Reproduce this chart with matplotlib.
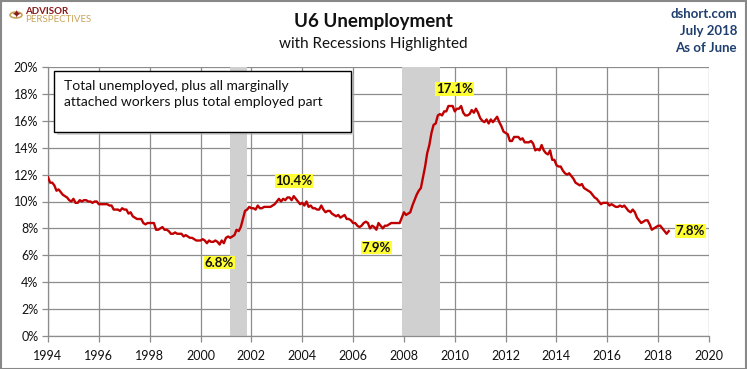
import matplotlib
matplotlib.use("Agg")
import matplotlib.pyplot as plt
import numpy as np
from matplotlib.patches import Rectangle, Circle

plt.rcParams['font.family'] = ['Lato', 'DejaVu Sans']

# ---- data: monthly U6 rate (%), Jan 1994 .. Jun 2018 ----
start_year = 1994
u6 = [
    11.8, 11.4, 11.4, 11.2, 10.8, 10.9, 10.7, 10.5, 10.4, 10.3, 10.1, 10.0,  # 1994
    10.2, 9.9, 9.9, 10.1, 10.0, 10.1, 10.1, 10.0, 10.0, 9.9, 10.0, 10.0,     # 1995
    9.8, 9.8, 9.8, 9.8, 9.8, 9.7, 9.7, 9.4, 9.4, 9.4, 9.3, 9.5,              # 1996
    9.4, 9.4, 9.1, 9.2, 8.9, 8.8, 8.7, 8.7, 8.7, 8.4, 8.3, 8.4,              # 1997
    8.4, 8.4, 8.4, 7.9, 7.9, 8.0, 8.1, 7.9, 7.9, 7.8, 7.6, 7.6,              # 1998
    7.7, 7.6, 7.6, 7.6, 7.4, 7.5, 7.4, 7.3, 7.3, 7.2, 7.1, 7.1,              # 1999
    7.1, 7.2, 7.1, 6.9, 7.1, 7.0, 7.0, 7.1, 7.0, 6.8, 7.1, 6.9,              # 2000
    7.3, 7.4, 7.3, 7.4, 7.5, 7.9, 7.8, 8.1, 8.7, 9.3, 9.4, 9.6,              # 2001
    9.5, 9.5, 9.4, 9.7, 9.5, 9.5, 9.6, 9.6, 9.6, 9.6, 9.7, 9.8,              # 2002
    10.0, 10.2, 10.0, 10.2, 10.1, 10.3, 10.3, 10.1, 10.4, 10.2, 10.0, 9.8,   # 2003
    9.9, 9.7, 10.0, 9.6, 9.7, 9.5, 9.5, 9.4, 9.4, 9.7, 9.4, 9.2,             # 2004
    9.3, 9.3, 9.1, 9.0, 8.9, 9.0, 8.8, 8.9, 9.0, 8.7, 8.7, 8.6,              # 2005
    8.4, 8.4, 8.2, 8.1, 8.2, 8.4, 8.5, 8.4, 8.0, 8.2, 8.1, 7.9,              # 2006
    8.4, 8.2, 8.0, 8.2, 8.2, 8.3, 8.4, 8.4, 8.4, 8.4, 8.4, 8.8,              # 2007
    9.2, 9.0, 9.1, 9.2, 9.7, 10.1, 10.5, 10.8, 11.0, 11.8, 12.6, 13.6,       # 2008
    14.2, 15.1, 15.7, 15.8, 16.4, 16.5, 16.4, 16.7, 16.7, 17.1, 17.1, 17.1,  # 2009
    16.7, 16.9, 16.9, 17.1, 16.6, 16.4, 16.4, 16.5, 16.8, 16.6, 16.9, 16.6,  # 2010
    16.2, 16.0, 15.9, 16.1, 15.8, 16.1, 15.9, 16.1, 16.3, 15.9, 15.6, 15.2,  # 2011
    15.1, 15.0, 14.5, 14.5, 14.8, 14.8, 14.8, 14.6, 14.7, 14.4, 14.4, 14.4,  # 2012
    14.5, 14.3, 13.8, 13.9, 13.8, 14.2, 13.8, 13.6, 13.5, 13.8, 13.1, 13.1,  # 2013
    12.7, 12.6, 12.6, 12.3, 12.1, 12.0, 12.1, 11.9, 11.7, 11.4, 11.3, 11.2,  # 2014
    11.3, 11.0, 10.9, 10.8, 10.7, 10.5, 10.3, 10.2, 10.0, 9.8, 9.9, 9.9,     # 2015
    9.9, 9.7, 9.8, 9.7, 9.6, 9.6, 9.7, 9.6, 9.7, 9.5, 9.3, 9.2,              # 2016
    9.4, 9.2, 8.8, 8.6, 8.4, 8.5, 8.6, 8.6, 8.3, 7.9, 8.0, 8.1,              # 2017
    8.2, 8.2, 8.0, 7.8, 7.6, 7.8,                                            # 2018
]
recessions = [(2001 + 2/12, 2001 + 10/12), (2007 + 11/12, 2009 + 5/12)]
# callouts: (year, month index 0-11, label, dx px, dy px, ha)
callouts = [
    (2000, 9, "6.8%", 0, -18, "center"),
    (2003, 8, "10.4%", 0, 15, "center"),
    (2006, 11, "7.9%", 0, -18, "center"),
    (2009, 9, "17.1%", 6, 17, "center"),
    (2018, 5, "7.8%", 7, 0, "left"),
]
xticks = list(range(1994, 2021, 2))
yticks = list(range(0, 21, 2))

t = start_year + np.arange(len(u6)) / 12.0

W, H = 747, 369
fig = plt.figure(figsize=(W / 100, H / 100), dpi=100)
ax = fig.add_axes([48 / W, 33 / H, (709 - 48) / W, (336 - 67) / H])

for a, b in recessions:
    ax.axvspan(a, b, color="#D0D0D0", lw=0, zorder=1)

ax.plot(t, u6, color="#C00000", lw=1.7, zorder=3, solid_joinstyle="round")

ax.set_xlim(1994, 2020)
ax.set_ylim(0, 20)
ax.set_xticks(xticks)
ax.set_yticks(yticks)
ax.set_yticklabels([f"{v}%" for v in yticks])
ax.grid(True, color="#8C8C8C", lw=0.9, zorder=0)
ax.set_axisbelow(True)
for s in ["top", "right"]:
    ax.spines[s].set_visible(False)
for s in ["left", "bottom"]:
    ax.spines[s].set_color("#8C8C8C")
    ax.spines[s].set_linewidth(0.9)
ax.tick_params(axis="both", colors="#8C8C8C", labelcolor="#111111", labelsize=9, length=4, width=0.9)
ax.tick_params(axis="y", pad=3)
ax.tick_params(axis="x", pad=6)

bbox_y = dict(boxstyle="square,pad=0.05", fc="#FFFF33", ec="none")
for yr, m, lab, dx, dy, ha in callouts:
    val = u6[(yr - start_year) * 12 + m]
    ax.annotate(lab, xy=(yr + m / 12, val), xytext=(dx * 0.72, dy * 0.72), textcoords="offset points",
                ha=ha, va="center", fontsize=9.5, fontweight="bold", color="#111111",
                bbox=bbox_y, zorder=5)

# text box with shadow
bx0, by0, bx1, by1 = 54, 71, 351, 132
fig.patches.append(Rectangle(((bx0 + 3) / W, 1 - (by1 + 3) / H), (bx1 - bx0) / W, (by1 - by0) / H,
                             transform=fig.transFigure, fc="#BBBBBB", ec="none", zorder=5, alpha=0.6))
fig.patches.append(Rectangle((bx0 / W, 1 - by1 / H), (bx1 - bx0) / W, (by1 - by0) / H,
                             transform=fig.transFigure, fc="white", ec="black", lw=1.0, zorder=6))
fig.text(64 / W, 1 - 94 / H, "Total unemployed, plus all marginally\nattached workers plus total employed part",
         fontsize=10, color="#111111", va="center", ha="left", linespacing=1.3, zorder=7)

# titles
fig.text(373 / W, 1 - 21 / H, "U6 Unemployment", fontsize=13.5, fontweight="bold", ha="center", va="center",
         color="#111111")
fig.text(373 / W, 1 - 44 / H, "with Recessions Highlighted", fontsize=11, ha="center", va="center",
         color="#111111")

for i, s in enumerate(["dshort.com", "July 2018", "As of June"]):
    fig.text(737 / W, 1 - (14 + 17 * i) / H, s, fontsize=9.5, fontweight="bold", ha="right", va="center",
             color="#1F3F6F")

# logo
fig.patches.append(Circle((16 / W, 1 - 15 / H), 6 / W, transform=fig.transFigure, fc="none",
                          ec="#C9A55A", lw=1.2))
fig.text(16 / W, 1 - 15 / H, "\u2726", fontsize=8, color="#8B1A1A", ha="center", va="center",
         family="DejaVu Sans")
fig.text(25 / W, 1 - 11 / H, "ADVISOR", fontsize=7, fontweight="bold", color="#8B1A1A", ha="left", va="center")
fig.text(25 / W, 1 - 20 / H, "PERSPECTIVES", fontsize=7, color="#C9A55A", ha="left", va="center")

# figure frame
fig.patches.append(Rectangle((0.5 / W, 0.5 / H), (W - 1.5) / W, (H - 1.5) / H, transform=fig.transFigure,
                             fc="none", ec="#888888", lw=1.5))

fig.savefig("out.png", dpi=100)
